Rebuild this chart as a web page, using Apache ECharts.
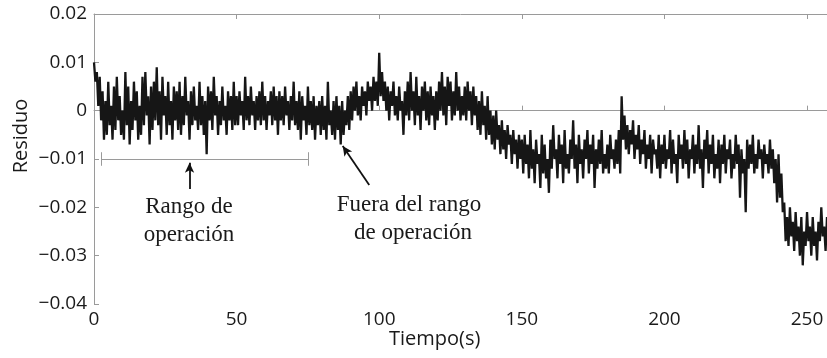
<!DOCTYPE html>
<html>
<head>
<meta charset="utf-8">
<script src="https://cdn.jsdelivr.net/npm/echarts@6/dist/echarts.min.js"></script>
<style>
  html, body { margin: 0; padding: 0; background: #fff; }
  #main { width: 827px; height: 358px; }
</style>
</head>
<body>
<div id="main"></div>
<script>
// residuo, en milesimas (x 1e-3), una muestra cada 0.5 s
var dt = 0.5;
var res0a50 = [
  10, 6, 8, 1, 7, -2, 4, -6, 2, -5, 6, -3, 1, -6, 5, -4, 7, -2, 3, -5,
  0, -6, 8, -3, 5, -7, 2, -4, 6, -2, 4, -6, 1, -5, 7, -3, 8, -1, 3, -7,
  5, -4, 6, -2, 9, -3, 4, -6, 7, -1, 3, -5, 6, -3, 2, -6, 5, -2, 4, -4,
  6, -5, 3, -3, 7, -1, 2, -6, 4, -3, 5, -2, 1, -4, 6, -3, 3, -5, 2, -9,
  5, -2, 4, -4, 7, -1, 3, -5, 2, -3, 5, -2, 1, -5, 4, -2, 3, -4, 6, -3
];
var res50a100 = [
  3, -3, 4, -1, 2, -4, 7, -2, 3, -3, 5, -1, 2, -4, 3, -2, 4, -3, 6, -2,
  3, -4, 2, -1, 4, -3, 5, -2, 3, -5, 4, -2, 3, -3, 5, -1, 2, -4, 3, -2,
  6, -3, 2, -4, 4, -6, 3, -2, 1, -5, 5, -3, 2, -4, 3, -6, 1, -3, 2, -5,
  3, -4, 1, -6, 6, -3, 0, -5, 2, -6, 3, -4, 1, -7, 2, -5, 0, -3, 3, -4,
  4, -2, 5, 0, 6, -1, 3, -2, 5, 1, 4, -1, 6, 2, 5, 0, 7, 2, 6, 1
];
var res100a150 = [
  12, 3, 8, 2, 6, 0, 5, -2, 4, 1, 6, -1, 3, -2, 5, 0, 2, -5, 4, -1,
  6, -2, 8, 0, 4, -3, 7, -1, 3, -4, 5, 0, 6, -2, 4, -3, 5, -1, 3, -4,
  4, -2, 6, 0, 8, -1, 5, -3, 7, 1, 6, -2, 4, -1, 8, 0, 5, -2, 3, -1,
  5, -2, 6, 0, 4, -3, 5, -1, 3, -4, 2, -5, 4, -3, 1, -6, 3, -5, 0, -7,
  -1, -8, 0, -6, -3, -9, -2, -8, -4, -10, -3, -7, -5, -11, -4, -9, -6, -12, -5, -10
];
var res150a200 = [
  -6, -13, -5, -11, -7, -14, -4, -12, -8, -15, -6, -11, -9, -16, -5, -13, -7, -14, -10, -17,
  -6, -12, -3, -10, -8, -14, -5, -11, -7, -15, -4, -12, -9, -13, -6, -10, -2, -12, -7, -15,
  -5, -11, -8, -14, -6, -10, -4, -13, -7, -11, -5, -16, -8, -12, -6, -11, -4, -13, -9, -12,
  -7, -13, -5, -10, -8, -12, -6, -11, -4, -13, 3, -6, -1, -8, -3, -9, -4, -7, -2, -10,
  -5, -8, -3, -11, -6, -9, -4, -12, -7, -10, -5, -13, -6, -9, -8, -12, -5, -14, -7, -11
];
var res200a260 = [
  -5, -12, -8, -10, -4, -13, -6, -11, -9, -15, -5, -10, -7, -12, -4, -11, -6, -14, -8, -10,
  -5, -13, -7, -11, -3, -12, -8, -16, -6, -10, -4, -13, -7, -11, -5, -14, -9, -12, -6, -15,
  -7, -11, -5, -13, -8, -10, -6, -14, -9, -12, -5, -11, -7, -18, -8, -13, -10, -21, -6, -12,
  -7, -11, -5, -13, -9, -12, -6, -10, -8, -14, -7, -11, -9, -13, -6, -12, -8, -15, -10, -19,
  -9, -18, -13, -21, -19, -27, -22, -28, -20, -26, -23, -29, -21, -27, -24, -30, -22, -32, -25, -28,
  -21, -27, -24, -30, -22, -28, -25, -31, -23, -27, -20, -26, -24, -29, -22, -27, -25, -28, -23, -26,
  -25
];

var xTicks = [0, 50, 100, 150, 200, 250];
var yTicks = [-0.04, -0.03, -0.02, -0.01, 0, 0.01, 0.02];

var residuo = [].concat(res0a50, res50a100, res100a150, res150a200, res200a260);
var serie = residuo.map(function (v, i) { return [i * dt, v / 1000]; });

function fmtY(v) {
  if (Math.abs(v) < 1e-9) return '0';
  var s = Math.abs(v).toFixed(2);
  return (v < 0 ? '\u2212' : '') + s;
}

var axisCol = '#9a9a9a';
var txtCol = '#1a1a1a';
var sans = '"Open Sans", "DejaVu Sans", sans-serif';
var serif = '"Liberation Serif", "DejaVu Serif", serif';

var myChart = echarts.init(document.getElementById('main'));
var option = {
  animation: false,
  backgroundColor: '#fff',
  grid: { left: 94, right: 0, top: 14, bottom: 54, containLabel: false },
  xAxis: [{
    type: 'value', min: 0, max: 257, interval: 50,
    axisLine: { show: true, lineStyle: { color: axisCol, width: 1 } },
    axisTick: { show: true, inside: true, length: 5, lineStyle: { color: axisCol } },
    axisLabel: { color: txtCol, fontSize: 19, fontFamily: sans, margin: 6, showMaxLabel: false,
      formatter: function (v) { return xTicks.indexOf(v) >= 0 ? String(v) : ''; } },
    splitLine: { show: false }
  }, {
    type: 'value', min: 0, max: 257, interval: 50, position: 'top',
    axisLine: { show: true, lineStyle: { color: axisCol, width: 1 } },
    axisTick: { show: true, inside: true, length: 5, lineStyle: { color: axisCol } },
    axisLabel: { show: false }, splitLine: { show: false }
  }],
  yAxis: [{
    type: 'value', min: -0.04, max: 0.02, interval: 0.01,
    axisLine: { show: true, lineStyle: { color: axisCol, width: 1 } },
    axisTick: { show: true, inside: true, length: 5, lineStyle: { color: axisCol } },
    axisLabel: { color: txtCol, fontSize: 19, fontFamily: sans, margin: 7, formatter: fmtY },
    splitLine: { show: false }
  }],
  graphic: [
    { type: 'text', left: 389, top: 329,
      style: { text: 'Tiempo(s)', fill: txtCol, font: '20px ' + sans } },
    { type: 'text', x: 21, y: 136, rotation: Math.PI / 2, originX: 0, originY: 0,
      style: { text: 'Residuo', fill: txtCol, font: '20px ' + sans, align: 'center', verticalAlign: 'middle' } },
    { type: 'text', x: 189, y: 207,
      style: { text: 'Rango de', fill: '#1a1a1a', font: '23px ' + serif, align: 'center', verticalAlign: 'middle' } },
    { type: 'text', x: 189, y: 235,
      style: { text: 'operación', fill: '#1a1a1a', font: '23px ' + serif, align: 'center', verticalAlign: 'middle' } },
    { type: 'text', x: 409, y: 205,
      style: { text: 'Fuera del rango', fill: '#1a1a1a', font: '23px ' + serif, align: 'center', verticalAlign: 'middle' } },
    { type: 'text', x: 413, y: 233,
      style: { text: 'de operación', fill: '#1a1a1a', font: '23px ' + serif, align: 'center', verticalAlign: 'middle' } }
  ],
  series: [{
    name: 'Residuo',
    type: 'line',
    data: serie,
    showSymbol: false,
    lineStyle: { color: '#161616', width: 2.3 },
    silent: true,
    markLine: {
      silent: true,
      symbol: ['none', 'none'],
      label: { show: false },
      lineStyle: { color: '#9a9a9a', width: 1, type: 'solid' },
      data: [
        [{ coord: [2.5, -0.01] }, { coord: [75, -0.01] }],
        [{ coord: [2.5, -0.0086] }, { coord: [2.5, -0.0114] }],
        [{ coord: [75, -0.0086] }, { coord: [75, -0.0114] }]
      ]
    }
  }, {
    name: 'flechas',
    type: 'line',
    data: [],
    markLine: {
      silent: true,
      symbol: ['none', 'arrow'],
      symbolSize: [7, 10],
      label: { show: false },
      lineStyle: { color: '#111', width: 1.8, type: 'solid' },
      data: [
        [{ coord: [33.5, -0.0162] }, { coord: [33.5, -0.0108] }],
        [{ coord: [96.5, -0.0154] }, { coord: [87.2, -0.0073] }]
      ]
    }
  }]
};
myChart.setOption(option);
</script>
</body>
</html>
